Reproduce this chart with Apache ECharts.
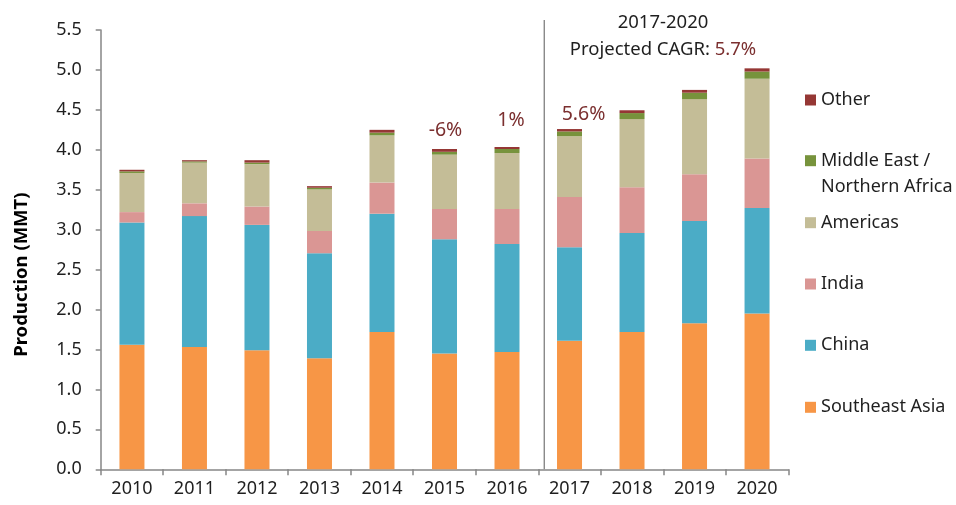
<!DOCTYPE html>
<html>
<head>
<meta charset="utf-8">
<script src="https://cdn.jsdelivr.net/npm/echarts@6/dist/echarts.min.js"></script>
<style>html,body{margin:0;padding:0;background:#fff}#c{width:956px;height:505px}</style>
</head>
<body>
<div id="c"></div>
<script>
const years = ['2010','2011','2012','2013','2014','2015','2016','2017','2018','2019','2020'];
const southeastAsia = [1.56, 1.53, 1.49, 1.39, 1.72, 1.45, 1.47, 1.61, 1.72, 1.83, 1.95];
const china = [1.53, 1.64, 1.57, 1.315, 1.48, 1.43, 1.35, 1.17, 1.24, 1.28, 1.32];
const india = [0.13, 0.16, 0.23, 0.28, 0.39, 0.38, 0.44, 0.63, 0.57, 0.585, 0.62];
const americas = [0.49, 0.51, 0.53, 0.52, 0.59, 0.68, 0.70, 0.76, 0.855, 0.94, 1.0];
const mena = [0.02, 0.015, 0.02, 0.02, 0.035, 0.035, 0.05, 0.06, 0.075, 0.08, 0.09];
const other = [0.02, 0.015, 0.03, 0.02, 0.035, 0.035, 0.025, 0.03, 0.035, 0.035, 0.04];
const growthLabels = ['', '', '', '', '', '-6%', '1%', '5.6%', '', '', ''];
const yTicks = ['0.0','0.5','1.0','1.5','2.0','2.5','3.0','3.5','4.0','4.5','5.0','5.5'];
const seriesNames = ['Southeast Asia','China','India','Americas','Middle East / Northern Africa','Other'];
const legendTexts = {'Middle East / Northern Africa': ' \nMiddle East /\nNorthern Africa'};
const seriesData = [southeastAsia, china, india, americas, mena, other];
const colors = ['#F79646','#4BACC6','#DA9694','#C4BD97','#77933C','#953735'];

const FONT = 'Noto Sans';
const labelOffsets = {'-6%':[1,-3], '1%':[4,-11], '5.6%':[14,1]};

const series = seriesData.map((d, i) => {
  const s = {
    name: seriesNames[i], type: 'bar', stack: 'total', barWidth: 25,
    itemStyle: {color: colors[i]},
    emphasis: {disabled: true},
    data: d.slice()
  };
  if (i === seriesData.length - 1) {
    s.data = d.map((v, j) => growthLabels[j] ? {
      value: v,
      label: {show: true, position: 'top', formatter: growthLabels[j], offset: labelOffsets[growthLabels[j]],
        color: '#7B2F2F', fontSize: 19.5, fontFamily: FONT, distance: 6}
    } : v);
  }
  return s;
});

const legendCenters = {'Other':100, 'Middle East / Northern Africa':160.7, 'Americas':222.7, 'India':284, 'China':345.3, 'Southeast Asia':407.3};
const legends = Object.keys(legendCenters).map(n => {
  const multi = !!legendTexts[n];
  return {
    data: [n], orient: 'vertical', left: 805,
    top: multi ? legendCenters[n] - 1.5 * 26.6 : legendCenters[n] - 10,
    icon: 'rect', itemWidth: 11, itemHeight: 11, itemGap: 0, selectedMode: false, padding: 0,
    formatter: (name) => legendTexts[name] || name,
    textStyle: multi ? {fontSize: 18, fontFamily: FONT, color: '#1f1f1f', lineHeight: 26.6}
                     : {fontSize: 18, fontFamily: FONT, color: '#1f1f1f', lineHeight: 20}
  };
});

const chart = echarts.init(document.getElementById('c'));
chart.setOption({
  animation: false,
  backgroundColor: '#ffffff',
  textStyle: {fontFamily: FONT},
  title: [
    {text: '2017-2020', left: 658, top: 8, textAlign: 'center',
     textStyle: {fontSize: 18.5, fontWeight: 'normal', color: '#1f1f1f', fontFamily: FONT}},
    {text: 'Projected CAGR: {r|5.7%}', left: 658, top: 35, textAlign: 'center',
     textStyle: {fontSize: 18.5, fontWeight: 'normal', color: '#1f1f1f', fontFamily: FONT,
       rich: {r: {fontSize: 18.5, color: '#7B2F2F', fontFamily: FONT}}}}
  ],
  legend: legends,
  grid: {left: 100.7, right: 167.7, top: 30, bottom: 35.7, containLabel: false},
  xAxis: {
    type: 'category', data: years,
    axisLine: {lineStyle: {color: '#868686', width: 1.5}},
    axisTick: {show: true, length: 6, lineStyle: {color: '#868686', width: 1.5}},
    axisLabel: {fontSize: 18, color: '#1f1f1f', margin: 11, fontFamily: FONT}
  },
  yAxis: {
    type: 'value', min: 0, max: 5.5, interval: 0.5,
    name: 'Production (MMT)', nameLocation: 'middle', nameGap: 69,
    nameTextStyle: {fontSize: 18.5, fontWeight: 'bold', color: '#000', fontFamily: FONT, padding: [0,50,0,0]},
    axisLine: {show: true, lineStyle: {color: '#868686', width: 1.5}},
    axisTick: {show: true, length: 5, lineStyle: {color: '#868686', width: 1.5}},
    splitLine: {show: false},
    axisLabel: {fontSize: 18, color: '#1f1f1f', margin: 19, fontFamily: FONT,
      formatter: (v) => yTicks[Math.round(v / 0.5)]}
  },
  series: series
});

const p16 = chart.convertToPixel({xAxisIndex: 0}, '2016');
const p17 = chart.convertToPixel({xAxisIndex: 0}, '2017');
const y0 = chart.convertToPixel({yAxisIndex: 0}, 0);
const xv = (p16 + p17) / 2 + 6;
chart.setOption({
  graphic: [{type: 'line', shape: {x1: xv, y1: 20, x2: xv, y2: y0}, style: {stroke: '#7F7F7F', lineWidth: 1.3}, silent: true}]
});
</script>
</body>
</html>
